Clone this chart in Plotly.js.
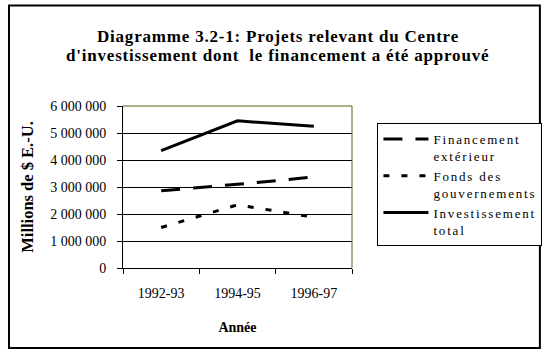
<!DOCTYPE html>
<html>
<head>
<meta charset="utf-8">
<script src="https://cdn.plot.ly/plotly-3.0.1.min.js"></script>
<style>
html,body{margin:0;padding:0;background:#fff;}
#chart{width:554px;height:355px;}
text.legendtext{letter-spacing:1.8px;}
text.gtitle, text.annotation-text{letter-spacing:0.8px;}
</style>
</head>
<body>
<div id="chart"></div>
<script>
const years = ["1992-93", "1994-95", "1996-97"];
const financementExterieur = [2860000, 3100000, 3370000];
const fondsGouvernements = [1500000, 2340000, 1880000];
const investissementTotal = [4350000, 5450000, 5250000];
const seriesNames = ["Financement<br>extérieur", "Fonds des<br>gouvernements", "Investissement<br>total"];
const yTicks = [0, 1000000, 2000000, 3000000, 4000000, 5000000, 6000000];
const titleLines = ["Diagramme 3.2-1: Projets relevant du Centre", "d'investissement dont  le financement a été approuvé"];

const FONT = "Liberation Serif";

const traces = [
  {x: years, y: financementExterieur, name: seriesNames[0], type: "scatter", mode: "lines",
   line: {color: "#000", width: 3, dash: "19px,13px"}},
  {x: years, y: fondsGouvernements, name: seriesNames[1], type: "scatter", mode: "lines",
   line: {color: "#000", width: 3, dash: "6px,12px"}},
  {x: years, y: investissementTotal, name: seriesNames[2], type: "scatter", mode: "lines",
   line: {color: "#000", width: 3}}
];

// plot area: x 123..357, y 106..268 (px)
const L = 123, R = 357, T = 106, B = 268;
const px = v => (v - L) / (R - L);
const py = v => (B - v) / (B - T);

const layout = {
  width: 554, height: 355,
  margin: {l: L, r: 554 - R, t: T, b: 355 - B, pad: 0},
  paper_bgcolor: "#fff", plot_bgcolor: "#fff",
  separators: ", ",
  font: {family: FONT, size: 13, color: "#000"},
  showlegend: true,
  title: {
    text: "<b>" + titleLines[0] + "</b>",
    font: {family: FONT, size: 17, color: "#000"},
    x: 278 / 554, xanchor: "center", xref: "container",
    y: 1 - 36 / 355, yanchor: "middle", yref: "container"
  },
  annotations: [
    {text: "<b>" + titleLines[1] + "</b>", xref: "paper", yref: "paper",
     x: px(281), y: py(56), xanchor: "center", yanchor: "middle", showarrow: false,
     font: {family: FONT, size: 17, color: "#000"}}
  ],
  xaxis: {
    type: "category", range: [-0.5, 2.5],
    showline: true, linecolor: "#000", linewidth: 1,
    ticks: "outside", ticklen: 5, tickcolor: "#000", tickson: "boundaries",
    showgrid: false, zeroline: false,
    tickfont: {family: FONT, size: 14, color: "#000"},
    ticklabelstandoff: 12,
    title: {text: "<b>Année</b>", font: {family: FONT, size: 14, color: "#000"}, standoff: 22}
  },
  yaxis: {
    range: [0, 6000000], tickvals: yTicks, tickformat: ",.0f",
    showline: true, linecolor: "#000", linewidth: 1,
    ticks: "outside", ticklen: 5, tickcolor: "#000",
    showgrid: true, gridcolor: "#000", gridwidth: 1, zeroline: false,
    tickfont: {family: FONT, size: 14, color: "#000"},
    ticklabelstandoff: 8,
    title: {text: "<b>Millions de $ E.-U.</b>", font: {family: FONT, size: 16.5, color: "#000"}, standoff: 12}
  },
  legend: {
    x: px(383), y: py(123), xanchor: "left", yanchor: "top",
    bordercolor: "#000", borderwidth: 1, bgcolor: "#fff",
    font: {family: FONT, size: 13, color: "#000"},
    valign: "top", tracegroupgap: 0, itemwidth: 45
  },
  shapes: [
    {type: "line", xref: "paper", yref: "paper", x0: 0, x1: 1, y0: 1, y1: 1, line: {color: "#5f5f1f", width: 1}, layer: "above"},
    {type: "line", xref: "paper", yref: "paper", x0: 1, x1: 1, y0: 0, y1: 1, line: {color: "#5f5f1f", width: 1}, layer: "above"},
    {type: "rect", xref: "paper", yref: "paper", x0: px(6.5), x1: px(549), y0: py(5.5), y1: py(348), line: {color: "#000", width: 2}, layer: "above"}
  ]
};

Plotly.newPlot("chart", traces, layout, {displayModeBar: false, staticPlot: true});
</script>
</body>
</html>
